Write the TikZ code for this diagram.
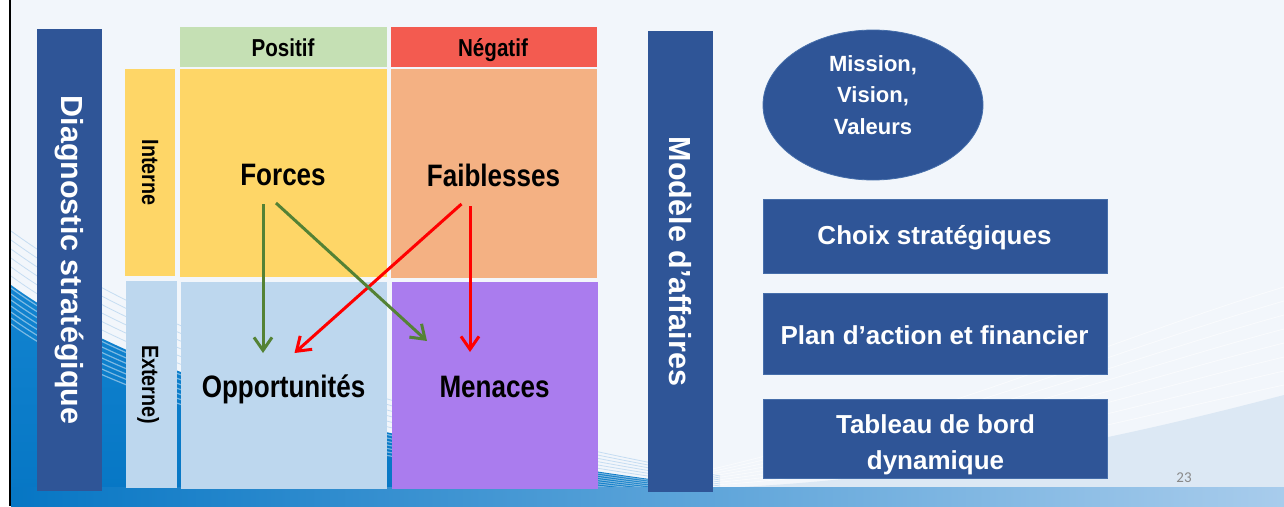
\documentclass[tikz,border=0pt]{standalone}
\usepackage{fontspec}
\setmainfont{Liberation Sans}
\newfontfamily\narrowsans[FakeStretch=0.84]{Liberation Sans}
\newfontfamily\pagenumfont{Carlito}
\usetikzlibrary{arrows.meta,shapes.geometric,calc}
\definecolor{navy}{RGB}{47,85,151}
\definecolor{navyedge}{RGB}{70,110,170}
\definecolor{posgreen}{RGB}{197,224,180}
\definecolor{negred}{RGB}{243,91,80}
\definecolor{forceyellow}{RGB}{254,214,103}
\definecolor{faibsalmon}{RGB}{244,177,131}
\definecolor{extblue}{RGB}{189,215,238}
\definecolor{menpurple}{RGB}{170,124,238}
\definecolor{arrgreen}{RGB}{84,130,53}
\definecolor{arrred}{RGB}{255,0,0}
\definecolor{bgpale}{RGB}{242,246,251}
\definecolor{bgblue}{RGB}{6,118,196}
\definecolor{bgmid}{RGB}{18,132,208}
\definecolor{bglight}{RGB}{168,204,236}
\definecolor{bgright}{RGB}{220,232,244}
\definecolor{numgray}{RGB}{137,137,137}
\begin{document}
\begin{tikzpicture}[x=1pt,y=-1pt,
  cell/.style={inner sep=0pt,outer sep=0pt},
  swot/.style={font=\narrowsans\bfseries\fontsize{31}{36}\selectfont,inner sep=0pt,anchor=base},
  head/.style={font=\narrowsans\bfseries\fontsize{24.5}{28}\selectfont,inner sep=0pt,anchor=base},
  side/.style={font=\narrowsans\bfseries\fontsize{23.5}{28}\selectfont,inner sep=0pt,anchor=base,rotate=-90},
  barlabel/.style={font=\bfseries\fontsize{30.5}{34}\selectfont,text=white,inner sep=0pt,rotate=-90},
  bluebox/.style={cell,fill=navy,draw=navyedge,line width=0.8pt,minimum width=344pt},
  boxtext/.style={font=\bfseries\fontsize{26}{36.7}\selectfont,text=white,inner sep=0pt,align=center},
  arr/.style={line width=3pt,-{Straight Barb[length=13pt,width=18pt]}},
  wave/.style={white,line width=0.8pt,opacity=0.6},
  bluewave/.style={white,line width=1.2pt,opacity=0.45},
]
\useasboundingbox (0,0) rectangle (1284,506);
% background
\fill[bgpale] (0,0) rectangle (1284,506);
\fill[bgright] (720,488) .. controls (950,478) and (1150,430) .. (1284,395) -- (1284,506) -- (720,506) -- cycle;
\foreach \k in {0,...,7}{
  \draw[wave] (700,{486-\k*2}) .. controls (950,{470-\k*8}) and (1120,{420-\k*12}) .. (1284,{385-\k*14});
}
\shade[top color=bgmid,bottom color=bgblue]
  (11,285) .. controls (80,335) and (250,432) .. (720,488) -- (720,506) -- (11,506) -- cycle;
\foreach \k in {0,...,6}{
  \draw[bluewave] (11,{288+\k*6}) .. controls (80,{338+\k*6}) and (250,{435+\k*4}) .. (720,{489+\k*1.5});
}
\foreach \k in {1,...,6}{
  \draw[wave,draw=bglight] (11,{285-\k*9}) .. controls (80,{335-\k*9}) and (250,{432-\k*7}) .. (720,{488-\k*2});
}
\shade[left color=bgblue,right color=bglight] (11,487) rectangle (1284,506);
\fill[white] (0,0) rectangle (8.5,506);
\draw[black,line width=2pt] (9.5,0) -- (9.5,506);

% left bar
\node[cell,fill=navy,minimum width=65pt,minimum height=462pt] (diag) at (69.5,260) {};
\node[barlabel] (diaglbl) at (diag.center) {Diagnostic stratégique};

% SWOT grid
\node[cell,fill=posgreen,minimum width=207pt,minimum height=40pt] (pos) at (283.5,47) {};
\node[head] (poslbl) at (283,56.7) {Positif};
\node[cell,fill=negred,minimum width=206pt,minimum height=40pt] (neg) at (494,47) {};
\node[head] (neglbl) at (493,56.7) {Négatif};

\node[cell,fill=forceyellow,minimum width=50pt,minimum height=207pt] (interne) at (150,172.5) {};
\node[side] (internelbl) at (142,172.5) {Interne};
\node[cell,fill=extblue,minimum width=51pt,minimum height=207pt] (externe) at (151.5,384.5) {};
\node[side] (externelbl) at (142,384.5) {Externe)};

\node[cell,fill=forceyellow,minimum width=207pt,minimum height=208pt] (forces) at (283.5,173) {};
\node[swot] (forceslbl) at (283,185) {Forces};
\node[cell,fill=faibsalmon,minimum width=206pt,minimum height=209pt] (faib) at (494,173.5) {};
\node[swot] (faiblbl) at (493.5,186.5) {Faiblesses};
\node[cell,fill=extblue,minimum width=206pt,minimum height=207pt] (opp) at (284,385.5) {};
\node[swot] (opplbl) at (283.5,397) {Opportunités};
\node[cell,fill=menpurple,minimum width=206pt,minimum height=207pt] (men) at (495,385.5) {};
\node[swot] (menlbl) at (494.5,397) {Menaces};

% arrows
\coordinate (r1s) at ($(faiblbl.base)+(-32,17.5)$);
\coordinate (r1e) at ($(opplbl.base)+(11,-44)$);
\coordinate (r2s) at ($(faiblbl.base)+(-23.5,19.5)$);
\coordinate (r2e) at ($(menlbl.base)+(-24.5,-45)$);
\coordinate (g1s) at ($(forceslbl.base)+(-20,19)$);
\coordinate (g1e) at ($(opplbl.base)+(-20.5,-44)$);
\coordinate (g2s) at ($(forceslbl.base)+(-7,18)$);
\coordinate (g2e) at ($(menlbl.base)+(-67.5,-56)$);
\draw[arr,arrred] (r1s) -- (r1e);
\draw[arr,arrred] (r2s) -- (r2e);
\draw[arr,arrgreen] (g1s) -- (g1e);
\draw[arr,arrgreen] (g2s) -- (g2e);

% right bar
\node[cell,fill=navy,minimum width=65pt,minimum height=461pt] (modele) at (680.5,261.5) {};
\node[barlabel] (modelelbl) at (modele.center) {Modèle d’affaires};

% ellipse
\node[ellipse,fill=navy,draw=navyedge,line width=0.8pt,minimum width=220pt,minimum height=150pt,inner sep=0pt] (mvv) at (873,105) {};
\node[font=\bfseries\fontsize{22}{31.7}\selectfont,text=white,align=center,inner sep=0pt] (mvvlbl) at (873,95) {Mission,\\Vision,\\Valeurs};

% right boxes
\node[bluebox,minimum height=74pt] (choix) at (935,236) {};
\node[boxtext,anchor=base] (choixlbl) at (934.5,244) {Choix stratégiques};
\node[bluebox,minimum height=81pt] (plan) at (935,333.5) {};
\node[boxtext,anchor=base] (planlbl) at (934.5,344) {Plan d’action et financier};
\node[bluebox,minimum height=79pt] (tab) at (935,438.5) {};
\node[boxtext] (tablbl) at (935.5,444.8) {Tableau de bord\\dynamique};

\node[font=\pagenumfont\fontsize{15}{18}\selectfont,text=numgray,inner sep=0pt] (pnum) at (1184,478) {23};
\end{tikzpicture}
\end{document}
